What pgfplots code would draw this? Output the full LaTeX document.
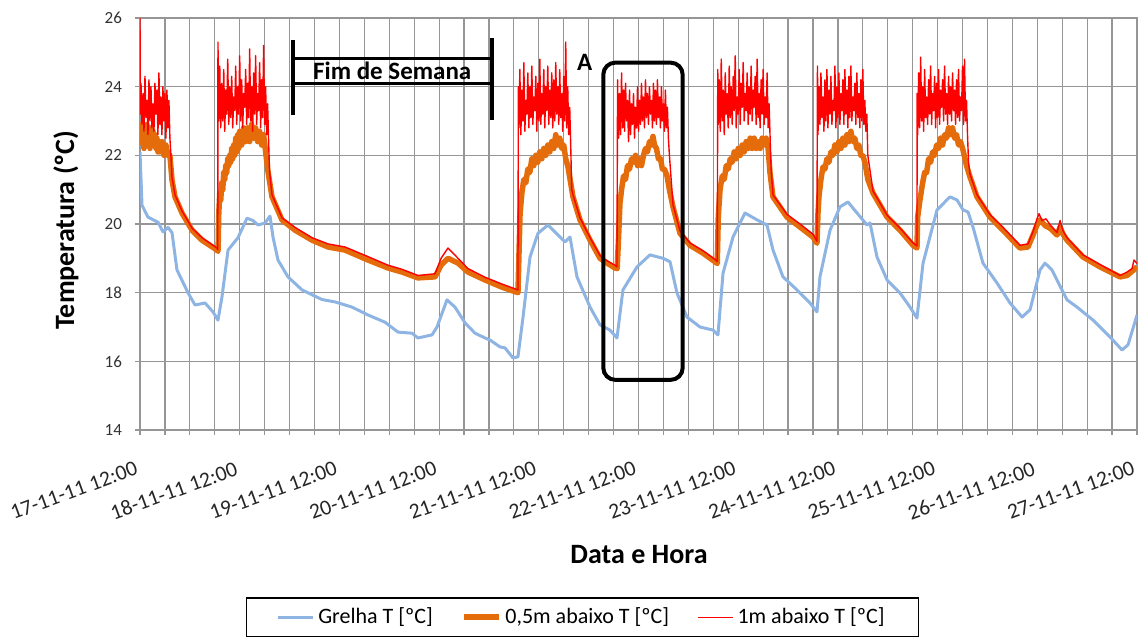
\documentclass[border=0pt]{standalone}
\usepackage{fontspec}
\setmainfont{Carlito}
\usepackage{pgfplots}
\pgfplotsset{compat=1.18}
\definecolor{cblue}{RGB}{141,180,226}
\definecolor{corange}{RGB}{228,108,10}
\definecolor{cred}{RGB}{255,0,0}
\definecolor{cgrid}{RGB}{150,150,150}
\begin{document}
\begin{tikzpicture}
\begin{axis}[
  at={(0,0)}, anchor=south west,
  scale only axis, width=498.5pt, height=206pt,
  xmin=0, xmax=10, ymin=14, ymax=26,
  xtick={0,1,2,3,4,5,6,7,8,9,10},
  minor x tick num=3,
  xticklabels={17-11-11 12:00,18-11-11 12:00,19-11-11 12:00,20-11-11 12:00,21-11-11 12:00,22-11-11 12:00,23-11-11 12:00,24-11-11 12:00,25-11-11 12:00,26-11-11 12:00,27-11-11 12:00},
  ytick={14,16,18,20,22,24,26},
  grid=both,
  major grid style={cgrid, line width=0.6pt},
  minor grid style={cgrid, line width=0.6pt},
  axis line style={cgrid, line width=0.6pt},
  tick style={cgrid, line width=0.6pt},
  tick align=outside, tick pos=left,
  major tick length=2.5pt, minor tick length=2.5pt,
  /pgf/number format/assume math mode=true,
  yticklabel style={font=\fontsize{8.5}{10}\selectfont, text=black!80, xshift=-3pt},
  xticklabel style={rotate=20, anchor=north east, inner sep=0pt, font=\fontsize{10.8}{13}\selectfont, xshift=-7pt, yshift=-11pt, text=black!85},
  xlabel={Data e Hora},
  ylabel={Temperatura (ºC)},
  xlabel style={font=\fontsize{14}{16}\selectfont\bfseries, at={(axis description cs:0.5005,-0.3034)}, anchor=center},
  ylabel style={font=\fontsize{14}{16}\selectfont\bfseries, at={(axis description cs:-0.0742,0.4854)}, anchor=center},
  legend style={at={(axis description cs:0.4438,-0.4053)}, anchor=north, legend columns=3, draw=black, line width=0.8pt,
    font=\fontsize{11}{13}\selectfont, inner xsep=15pt, inner ysep=3pt,
    /tikz/every even column/.append style={column sep=12pt}},
  legend image code/.code={\draw[#1] (0pt,0pt) -- (17.5pt,0pt);},
  legend cell align=left,
]
\addplot[cblue, line width=1.5pt, line join=round] coordinates {
(0.000,22.1) (0.020,20.55) (0.080,20.2) (0.181,20.05) (0.231,19.77) (0.281,19.9) (0.321,19.75) (0.371,18.66) (0.481,18.0) (0.552,17.64) (0.652,17.7) (0.732,17.44) (0.782,17.2) (0.822,17.87) (0.883,19.24) (0.983,19.6) (1.073,20.17) (1.133,20.1) (1.184,19.97) (1.254,20.03) (1.304,20.23) (1.334,19.62) (1.384,18.95) (1.484,18.46) (1.625,18.08) (1.825,17.8) (1.956,17.73) (2.126,17.58) (2.287,17.35) (2.457,17.14) (2.588,16.85) (2.728,16.82) (2.788,16.68) (2.929,16.77) (2.979,17.0) (3.079,17.79) (3.159,17.58) (3.260,17.12) (3.360,16.82) (3.460,16.68) (3.511,16.62) (3.611,16.42) (3.661,16.39) (3.741,16.1) (3.791,16.13) (3.842,17.29) (3.912,19.04) (3.992,19.73) (4.092,19.97) (4.213,19.62) (4.263,19.48) (4.313,19.62) (4.383,18.46) (4.514,17.58) (4.614,17.06) (4.714,16.91) (4.784,16.68) (4.844,18.08) (4.985,18.75) (5.115,19.1) (5.246,19.0) (5.316,18.9) (5.386,17.99) (5.486,17.29) (5.617,17.0) (5.747,16.91) (5.797,16.77) (5.848,18.57) (5.948,19.62) (6.068,20.32) (6.189,20.12) (6.289,19.97) (6.349,19.24) (6.449,18.46) (6.590,18.08) (6.720,17.7) (6.790,17.44) (6.820,18.46) (6.921,19.82) (7.021,20.5) (7.101,20.64) (7.192,20.32) (7.292,19.97) (7.322,20.03) (7.392,19.04) (7.493,18.37) (7.623,17.99) (7.723,17.58) (7.793,17.26) (7.854,18.86) (7.994,20.41) (8.124,20.79) (8.195,20.7) (8.255,20.41) (8.305,20.35) (8.355,19.91) (8.455,18.86) (8.596,18.28) (8.726,17.7) (8.847,17.29) (8.927,17.5) (9.027,18.66) (9.077,18.86) (9.147,18.66) (9.298,17.79) (9.398,17.58) (9.559,17.2) (9.729,16.71) (9.850,16.33) (9.910,16.48) (10.0,17.35)
};
\addlegendentry{Grelha T [ºC]}
\addplot[corange, line width=2.75pt, line join=round] coordinates {
(0.000,22.3) (0.010,22.9) (0.020,22.4) (0.030,22.8) (0.040,22.2) (0.050,22.7) (0.060,22.4) (0.070,22.9) (0.080,22.3) (0.090,22.6) (0.100,22.2) (0.110,22.8) (0.120,22.4) (0.130,22.7) (0.140,22.3) (0.150,22.6) (0.160,22.2) (0.170,22.5) (0.180,22.1) (0.190,22.4) (0.200,22.1) (0.220,22.4) (0.240,22.0) (0.260,22.3) (0.280,22.0) (0.300,22.0)
(0.321,21.28) (0.351,20.79) (0.421,20.32) (0.522,19.82) (0.622,19.53) (0.772,19.24) (0.782,19.2)
(0.785,19.5) (0.790,20.3) (0.800,20.9) (0.810,20.7) (0.820,21.2) (0.830,21.0) (0.840,21.5) (0.850,21.3) (0.860,21.7) (0.870,21.5) (0.880,21.9) (0.890,21.7) (0.900,22.0) (0.910,21.8) (0.920,22.2) (0.930,21.9) (0.940,22.3) (0.950,22.0) (0.960,22.5) (0.970,22.1) (0.980,22.6) (0.990,22.2) (1.000,22.7) (1.020,22.3) (1.040,22.8) (1.060,22.4) (1.080,22.8) (1.100,22.4) (1.120,22.9) (1.140,22.5) (1.160,22.8) (1.180,22.4) (1.200,22.7) (1.220,22.3) (1.240,22.6) (1.260,22.1)
(1.280,21.6) (1.324,20.79) (1.424,20.12) (1.555,19.82) (1.725,19.53) (1.886,19.33) (2.056,19.24) (2.287,18.95) (2.487,18.72) (2.628,18.6) (2.788,18.43) (2.959,18.46) (3.020,18.8) (3.089,19.0) (3.190,18.86) (3.290,18.6) (3.460,18.37) (3.631,18.16) (3.791,18.0)
(3.800,19.0) (3.812,20.3) (3.830,20.9) (3.850,21.3) (3.870,21.2) (3.890,21.6) (3.910,21.5) (3.930,21.9) (3.950,21.7) (3.970,22.0) (3.990,21.8) (4.010,22.1) (4.030,21.9) (4.050,22.2) (4.070,22.0) (4.090,22.3) (4.110,22.1) (4.130,22.4) (4.150,22.2) (4.170,22.6) (4.190,22.3) (4.210,22.5) (4.230,22.2) (4.250,22.3) (4.270,21.9) (4.293,21.66)
(4.343,20.79) (4.413,20.12) (4.514,19.53) (4.614,19.0) (4.684,18.86) (4.764,18.72) (4.786,18.7)
(4.800,19.6) (4.814,20.6) (4.830,21.0) (4.850,21.4) (4.870,21.3) (4.890,21.7) (4.910,21.6) (4.930,21.9) (4.950,21.8) (4.970,22.0) (4.990,21.7) (5.010,21.9) (5.030,21.7) (5.050,22.0) (5.070,22.2) (5.090,22.1) (5.110,22.4) (5.130,22.3) (5.145,22.55) (5.160,22.3) (5.180,22.2) (5.200,21.9) (5.220,21.9) (5.240,21.6) (5.260,21.6) (5.286,21.4) (5.310,21.0)
(5.346,20.5) (5.416,19.73) (5.516,19.38) (5.647,19.15) (5.767,18.9) (5.790,18.85)
(5.800,20.2) (5.818,21.0) (5.840,21.4) (5.860,21.3) (5.880,21.7) (5.900,21.6) (5.920,21.9) (5.940,21.8) (5.960,22.1) (5.980,21.9) (6.000,22.2) (6.020,22.0) (6.040,22.3) (6.060,22.1) (6.080,22.4) (6.100,22.2) (6.120,22.5) (6.140,22.2) (6.160,22.5) (6.180,22.2) (6.200,22.4) (6.220,22.2) (6.240,22.5) (6.260,22.3) (6.280,22.5) (6.300,22.2)
(6.319,21.49) (6.349,20.79) (6.489,20.2) (6.620,19.91) (6.750,19.62) (6.790,19.44)
(6.800,20.3) (6.810,20.8) (6.830,21.3) (6.850,21.66) (6.870,21.6) (6.890,21.9) (6.910,21.8) (6.930,22.1) (6.950,22.0) (6.970,22.3) (6.990,22.1) (7.010,22.4) (7.030,22.2) (7.050,22.5) (7.070,22.3) (7.090,22.6) (7.110,22.4) (7.130,22.7) (7.150,22.4) (7.170,22.5) (7.190,22.2) (7.210,22.3) (7.230,22.0) (7.250,22.0) (7.272,21.78)
(7.300,21.3) (7.352,20.9) (7.493,20.2) (7.623,19.82) (7.753,19.38) (7.793,19.3)
(7.800,20.2) (7.823,20.7) (7.850,21.2) (7.870,21.5) (7.890,21.5) (7.910,21.9) (7.930,21.8) (7.950,22.1) (7.970,22.0) (7.990,22.3) (8.010,22.2) (8.030,22.5) (8.050,22.3) (8.070,22.6) (8.090,22.5) (8.110,22.8) (8.130,22.6) (8.150,22.8) (8.170,22.5) (8.190,22.6) (8.210,22.3) (8.230,22.4) (8.255,22.15) (8.290,21.7)
(8.325,21.37) (8.395,20.79) (8.526,20.2) (8.656,19.82) (8.826,19.3) (8.907,19.33) (8.960,19.7) (8.997,19.97) (9.027,20.12) (9.080,19.95) (9.127,19.88) (9.198,19.68) (9.228,19.91) (9.258,19.7) (9.298,19.53) (9.458,19.04) (9.629,18.75) (9.830,18.46) (9.900,18.5) (9.930,18.57) (10.0,18.75)
};
\addlegendentry{0,5m abaixo T [ºC]}
\addplot[cred, line width=0.7pt, line join=round] coordinates {
(0.000,26.0) (0.004,23.2) (0.010,24.1) (0.020,22.9) (0.030,23.8) (0.040,22.7) (0.050,24.3) (0.060,23.1) (0.070,23.6) (0.080,22.6) (0.090,24.2) (0.100,23.0) (0.110,24.0) (0.120,22.8) (0.130,23.5) (0.140,22.7) (0.150,24.1) (0.160,23.2) (0.170,23.9) (0.180,22.6) (0.190,24.4) (0.200,22.9) (0.210,23.7) (0.220,22.6) (0.230,24.0) (0.240,23.0) (0.250,23.8) (0.260,22.5) (0.270,23.9) (0.280,22.8) (0.290,23.6) (0.300,22.5) (0.310,22.0)
(0.321,21.35) (0.351,20.85) (0.421,20.38) (0.522,19.88) (0.622,19.6) (0.772,19.3) (0.780,19.25)
(0.782,25.3) (0.790,23.0) (0.800,24.6) (0.810,22.8) (0.820,24.1) (0.830,23.0) (0.840,24.5) (0.850,22.7) (0.860,23.9) (0.870,23.2) (0.880,24.8) (0.890,22.9) (0.900,24.0) (0.910,23.1) (0.920,24.3) (0.930,22.8) (0.940,23.7) (0.950,23.3) (0.960,24.6) (0.970,22.9) (0.980,24.0) (0.990,23.2) (1.000,24.9) (1.010,23.0) (1.020,24.2) (1.030,22.8) (1.040,23.8) (1.050,23.4) (1.060,24.5) (1.070,22.9) (1.080,24.1) (1.090,23.1) (1.100,25.1) (1.110,23.0) (1.120,24.0) (1.130,22.7) (1.140,24.4) (1.150,23.2) (1.160,24.9) (1.170,22.9) (1.180,23.8) (1.190,23.3) (1.200,24.7) (1.210,22.8) (1.220,24.2) (1.230,23.1) (1.240,25.2) (1.250,22.9) (1.260,24.0) (1.270,22.6) (1.280,23.5) (1.290,22.4)
(1.300,21.5) (1.324,20.85) (1.424,20.18) (1.555,19.9) (1.725,19.6) (1.886,19.42) (2.056,19.33) (2.287,19.05) (2.487,18.8) (2.628,18.68) (2.788,18.5) (2.959,18.55) (3.020,19.0) (3.089,19.3) (3.190,19.0) (3.290,18.7) (3.460,18.45) (3.631,18.25) (3.791,18.08)
(3.795,24.0) (3.800,22.8) (3.810,24.5) (3.820,22.6) (3.830,23.9) (3.840,23.0) (3.850,24.7) (3.860,22.7) (3.870,23.6) (3.880,23.2) (3.890,24.4) (3.900,22.8) (3.910,24.0) (3.920,23.1) (3.930,24.6) (3.940,22.9) (3.950,23.7) (3.960,23.3) (3.970,24.3) (3.980,22.7) (3.990,24.1) (4.000,23.0) (4.010,24.8) (4.020,22.9) (4.030,23.8) (4.040,23.2) (4.050,24.5) (4.060,22.8) (4.070,24.0) (4.080,23.3) (4.090,24.6) (4.100,22.9) (4.110,23.9) (4.120,23.1) (4.130,24.4) (4.140,22.8) (4.150,24.2) (4.160,23.0) (4.170,24.7) (4.180,23.2) (4.190,24.0) (4.200,22.9) (4.210,24.5) (4.220,23.1) (4.230,23.8) (4.240,22.7) (4.250,24.3) (4.260,23.0) (4.270,25.3) (4.280,22.8) (4.290,24.0) (4.300,22.6) (4.310,23.4) (4.320,22.3)
(4.330,21.0) (4.343,20.85) (4.413,20.18) (4.514,19.6) (4.614,19.08) (4.684,18.93) (4.764,18.8) (4.784,18.75)
(4.790,24.2) (4.800,22.5) (4.810,23.8) (4.820,22.6) (4.830,24.4) (4.840,22.8) (4.850,23.9) (4.860,22.7) (4.870,24.1) (4.880,23.0) (4.890,23.6) (4.900,22.4) (4.910,23.9) (4.920,22.6) (4.930,23.5) (4.940,22.9) (4.950,23.8) (4.960,22.5) (4.970,23.4) (4.980,22.8) (4.990,24.0) (5.000,22.7) (5.010,23.6) (5.020,22.9) (5.030,24.1) (5.040,23.0) (5.050,23.7) (5.060,22.8) (5.070,24.2) (5.080,23.1) (5.090,23.8) (5.100,22.9) (5.110,24.0) (5.120,23.2) (5.130,23.6) (5.140,22.8) (5.150,24.1) (5.160,23.0) (5.170,23.9) (5.180,22.9) (5.190,24.2) (5.200,23.1) (5.210,23.7) (5.220,22.8) (5.230,24.0) (5.240,23.0) (5.250,23.5) (5.260,22.7) (5.270,23.9) (5.280,22.8) (5.290,23.4) (5.300,22.5) (5.310,22.0)
(5.346,20.56) (5.416,19.8) (5.516,19.45) (5.647,19.22) (5.767,18.97) (5.790,18.9)
(5.795,24.5) (5.800,22.9) (5.810,24.2) (5.820,22.7) (5.830,24.8) (5.840,23.0) (5.850,23.9) (5.860,22.6) (5.870,24.4) (5.880,23.2) (5.890,23.8) (5.900,22.8) (5.910,24.6) (5.920,23.1) (5.930,24.0) (5.940,22.9) (5.950,24.3) (5.960,23.3) (5.970,24.9) (5.980,22.8) (5.990,23.7) (6.000,23.2) (6.010,24.5) (6.020,22.9) (6.030,24.1) (6.040,23.4) (6.050,24.7) (6.060,23.0) (6.070,23.8) (6.080,23.3) (6.090,24.4) (6.100,22.9) (6.110,24.0) (6.120,23.2) (6.130,24.6) (6.140,23.0) (6.150,23.9) (6.160,23.4) (6.170,24.3) (6.180,22.9) (6.190,24.8) (6.200,23.1) (6.210,23.8) (6.220,22.8) (6.230,24.2) (6.240,23.2) (6.250,24.5) (6.260,22.9) (6.270,23.7) (6.280,23.1) (6.290,24.4) (6.300,22.8) (6.310,23.5) (6.320,22.5)
(6.330,21.6) (6.349,20.85) (6.489,20.28) (6.620,20.0) (6.750,19.7) (6.790,19.5)
(6.795,24.6) (6.800,22.6) (6.810,24.0) (6.820,22.9) (6.830,24.4) (6.840,23.1) (6.850,23.7) (6.860,22.7) (6.870,24.2) (6.880,23.0) (6.890,24.5) (6.900,22.8) (6.910,23.9) (6.920,23.2) (6.930,24.3) (6.940,22.9) (6.950,23.6) (6.960,23.3) (6.970,24.6) (6.980,22.8) (6.990,24.0) (7.000,23.1) (7.010,24.4) (7.020,22.9) (7.030,23.8) (7.040,23.3) (7.050,24.2) (7.060,22.9) (7.070,24.5) (7.080,23.2) (7.090,23.9) (7.100,22.8) (7.110,24.3) (7.120,23.1) (7.130,24.6) (7.140,23.0) (7.150,23.7) (7.160,23.3) (7.170,24.1) (7.180,22.9) (7.190,24.4) (7.200,23.1) (7.210,23.8) (7.220,22.8) (7.230,24.2) (7.240,23.0) (7.250,24.5) (7.260,22.9) (7.270,23.6) (7.280,22.7) (7.290,23.2) (7.300,22.0)
(7.352,20.96) (7.493,20.26) (7.623,19.88) (7.753,19.45) (7.793,19.36)
(7.795,23.8) (7.800,22.6) (7.810,24.4) (7.820,22.8) (7.830,24.86) (7.840,23.0) (7.850,24.0) (7.860,22.7) (7.870,24.5) (7.880,23.1) (7.890,23.7) (7.900,22.9) (7.910,24.2) (7.920,23.2) (7.930,24.6) (7.940,22.9) (7.950,23.8) (7.960,23.3) (7.970,24.3) (7.980,22.8) (7.990,24.1) (8.000,23.1) (8.010,24.5) (8.020,22.9) (8.030,23.9) (8.040,23.4) (8.050,24.2) (8.060,23.0) (8.070,24.6) (8.080,23.2) (8.090,23.8) (8.100,22.9) (8.110,24.3) (8.120,23.2) (8.130,24.0) (8.140,23.0) (8.150,24.4) (8.160,23.3) (8.170,23.9) (8.180,22.9) (8.190,24.2) (8.200,23.1) (8.210,24.5) (8.220,23.0) (8.230,23.7) (8.240,23.3) (8.250,24.6) (8.260,22.9) (8.270,24.8) (8.280,23.0) (8.290,23.6) (8.300,22.6)
(8.310,21.8) (8.325,21.45) (8.395,20.85) (8.526,20.27) (8.656,19.9) (8.826,19.38) (8.907,19.42) (8.960,19.8) (8.997,20.15) (9.017,20.3) (9.047,20.1) (9.087,20.15) (9.127,19.98) (9.198,19.75) (9.228,20.1) (9.258,19.8) (9.298,19.6) (9.458,19.1) (9.629,18.82) (9.830,18.5) (9.900,18.6) (9.950,18.7) (9.970,18.95) (10.0,18.85)
};
\addlegendentry{1m abaixo T [ºC]}
% annotations
\draw[black, line width=2pt] (1.532,23.17) -- (1.532,25.36);
\draw[black, line width=2pt] (3.527,23.03) -- (3.527,25.42);
\draw[black, line width=1.5pt] (1.532,24.83) -- (3.527,24.83);
\draw[black, line width=1.5pt] (1.532,24.10) -- (3.527,24.10);
\node[font=\fontsize{12.5}{14}\selectfont\bfseries, inner sep=0pt] at (2.53,24.45) {Fim de Semana};
\node[font=\fontsize{12.5}{14}\selectfont\bfseries, inner sep=0pt] at (4.46,24.72) {A};
\draw[black, line width=2pt, rounded corners=6pt] (4.647,15.46) rectangle (5.443,24.70);
\end{axis}
\pgfresetboundingbox
\path (-70pt,-105pt) rectangle (503pt,215pt);
\end{tikzpicture}
\end{document}
